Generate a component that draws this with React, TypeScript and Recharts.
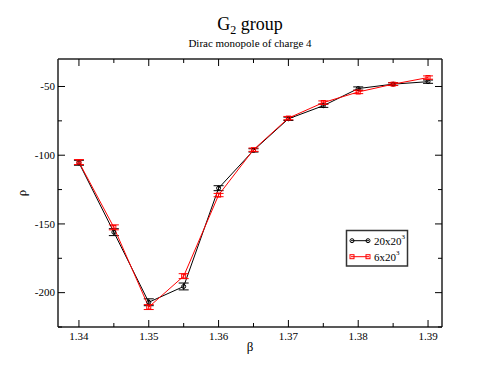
import React from "react";
import { ComposedChart, Line, XAxis, YAxis, ErrorBar } from "recharts";

const betas = [1.34, 1.345, 1.35, 1.355, 1.36, 1.365, 1.37, 1.375, 1.38, 1.385, 1.39];
const rho20 = [-105.5, -156, -207, -195.5, -124, -96.5, -73.5, -64, -51.5, -48.3, -46.5];
const err20 = [1.8, 2.5, 2.5, 2.5, 1.8, 1.2, 1.2, 1.2, 1.2, 1, 1.2];
const rho6 = [-105, -152.5, -210.5, -188, -129, -96, -73, -61.7, -54, -48.3, -43.5];
const err6 = [1.8, 1.8, 1.8, 1.8, 1.2, 1.2, 1.2, 1.2, 1.2, 1, 1.2];

const xTicks = [1.34, 1.345, 1.35, 1.355, 1.36, 1.365, 1.37, 1.375, 1.38, 1.385, 1.39];
const yTicks = [-225, -200, -175, -150, -125, -100, -75, -50];

const data = betas.map((b, i) => ({ b, r20: rho20[i], e20: err20[i], r6: rho6[i], e6: err6[i] }));

const FONT = "Liberation Serif";
const MAJ = 7;
const MIN = 4;

const isMajorX = (v: number) => Math.abs(v * 100 - Math.round(v * 100)) < 1e-6;
const isMajorY = (v: number) => Math.abs(v / 50 - Math.round(v / 50)) < 1e-6;

const BottomTick = (p: any) => {
  const v = p.payload.value;
  const maj = isMajorX(v);
  return (
    <g>
      <line x1={p.x} x2={p.x} y1={p.y} y2={p.y - (maj ? MAJ : MIN)} stroke="#000" strokeWidth={1} />
      {maj && (
        <text x={p.x} y={p.y + 12.5} textAnchor="middle" style={{ fontFamily: FONT, fontSize: 11 }} fill="#000">
          {v.toFixed(2)}
        </text>
      )}
    </g>
  );
};
const TopTick = (p: any) => {
  const v = p.payload.value;
  const maj = isMajorX(v);
  return <line x1={p.x} x2={p.x} y1={p.y} y2={p.y + (maj ? MAJ : MIN)} stroke="#000" strokeWidth={1} />;
};
const LeftTick = (p: any) => {
  const v = p.payload.value;
  const maj = isMajorY(v);
  return (
    <g>
      <line x1={p.x} x2={p.x + (maj ? MAJ : MIN)} y1={p.y} y2={p.y} stroke="#000" strokeWidth={1} />
      {maj && (
        <text x={p.x - 3} y={p.y} dy="0.35em" textAnchor="end" style={{ fontFamily: FONT, fontSize: 11 }} fill="#000">
          {String(v)}
        </text>
      )}
    </g>
  );
};
const RightTick = (p: any) => {
  const v = p.payload.value;
  const maj = isMajorY(v);
  return <line x1={p.x} x2={p.x - (maj ? MAJ : MIN)} y1={p.y} y2={p.y} stroke="#000" strokeWidth={1} />;
};

const CircleDot = (p: any) => (
  <circle key={`c${p.index}`} cx={p.cx} cy={p.cy} r={2} fill="none" stroke="#000" strokeWidth={1} />
);
const SquareDot = (p: any) => (
  <rect key={`s${p.index}`} x={p.cx - 2} y={p.cy - 2} width={4} height={4} fill="none" stroke="#ff0000" strokeWidth={1} />
);

export default function App() {
  const axisLine = { stroke: "#222", strokeWidth: 1.5 };
  return (
    <div style={{ position: "absolute", left: 0, top: 0, width: 498, height: 385, background: "#fff" }}>
      <ComposedChart width={498} height={385} data={data} margin={{ top: 58, right: 55, bottom: 57, left: 57 }}>
        <XAxis
          xAxisId="b"
          dataKey="b"
          type="number"
          domain={[1.337, 1.392]}
          ticks={xTicks}
          interval={0}
          height={1}
          tickSize={0}
          tickMargin={0}
          tickLine={false}
          axisLine={axisLine}
          tick={<BottomTick />}
          allowDataOverflow
        />
        <XAxis
          xAxisId="t"
          orientation="top"
          dataKey="b"
          type="number"
          domain={[1.337, 1.392]}
          ticks={xTicks}
          interval={0}
          height={1}
          tickSize={0}
          tickMargin={0}
          tickLine={false}
          axisLine={axisLine}
          tick={<TopTick />}
          allowDataOverflow
        />
        <YAxis
          yAxisId="l"
          type="number"
          domain={[-225, -30]}
          ticks={yTicks}
          interval={0}
          width={1}
          tickSize={0}
          tickMargin={0}
          tickLine={false}
          axisLine={axisLine}
          tick={<LeftTick />}
          allowDataOverflow
        />
        <YAxis
          yAxisId="r"
          orientation="right"
          type="number"
          domain={[-225, -30]}
          ticks={yTicks}
          interval={0}
          width={1}
          tickSize={0}
          tickMargin={0}
          tickLine={false}
          axisLine={axisLine}
          tick={<RightTick />}
          allowDataOverflow
        />
        <Line
          xAxisId="b"
          yAxisId="l"
          dataKey="r20"
          stroke="#000"
          strokeWidth={1}
          dot={<CircleDot />}
          activeDot={false}
          isAnimationActive={false}
        >
          <ErrorBar dataKey="e20" width={5} stroke="#000" strokeWidth={1} direction="y" />
        </Line>
        <Line
          xAxisId="b"
          yAxisId="l"
          dataKey="r6"
          stroke="#ff0000"
          strokeWidth={1}
          dot={<SquareDot />}
          activeDot={false}
          isAnimationActive={false}
        >
          <ErrorBar dataKey="e6" width={5} stroke="#ff0000" strokeWidth={1} direction="y" />
        </Line>
      </ComposedChart>
      <svg width={498} height={385} style={{ position: "absolute", left: 0, top: 0, pointerEvents: "none" }}>
        <text x={250} y={30} textAnchor="middle" fontFamily={FONT} fontSize={18} fill="#000">
          G<tspan fontSize={12} dy={4}>2</tspan>
          <tspan dy={-4}> group</tspan>
        </text>
        <text x={250} y={47} textAnchor="middle" fontFamily={FONT} fontSize={11} fill="#000">
          Dirac monopole of charge 4
        </text>
        <text x={250} y={351} textAnchor="middle" fontFamily={FONT} fontSize={13} fill="#000">
          β
        </text>
        <text x={26} y={193} textAnchor="middle" fontFamily={FONT} fontSize={13} fill="#000" transform="rotate(-90 26 193)">
          ρ
        </text>
        <g>
          <rect x={346.5} y={230.5} width={61} height={35.5} fill="#fff" stroke="#333" strokeWidth={1.5} />
          <line x1={351} x2={369} y1={240.7} y2={240.7} stroke="#000" strokeWidth={1} />
          <circle cx={352} cy={240.7} r={2} fill="none" stroke="#000" strokeWidth={1} />
          <circle cx={368} cy={240.7} r={2} fill="none" stroke="#000" strokeWidth={1} />
          <text x={374} y={244.5} fontFamily={FONT} fontSize={11} fill="#000">
            20x20<tspan fontSize={7} dy={-6}>3</tspan>
          </text>
          <line x1={351} x2={369} y1={256.7} y2={256.7} stroke="#ff0000" strokeWidth={1} />
          <rect x={350} y={254.7} width={4} height={4} fill="none" stroke="#ff0000" strokeWidth={1} />
          <rect x={366} y={254.7} width={4} height={4} fill="none" stroke="#ff0000" strokeWidth={1} />
          <text x={374} y={260.5} fontFamily={FONT} fontSize={11} fill="#000">
            6x20<tspan fontSize={7} dy={-6}>3</tspan>
          </text>
        </g>
      </svg>
    </div>
  );
}
